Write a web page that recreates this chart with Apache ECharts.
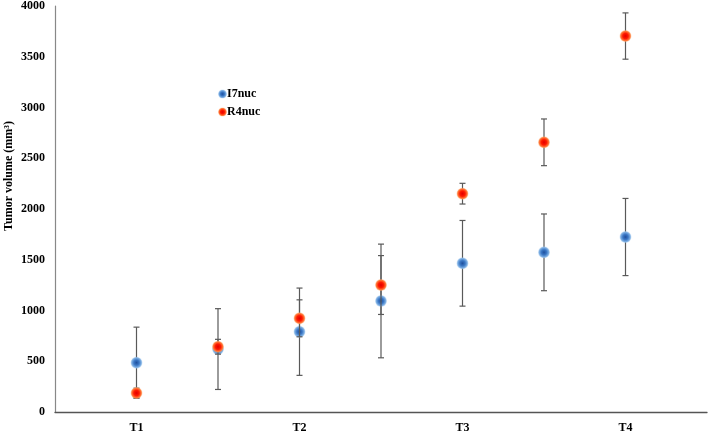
<!DOCTYPE html>
<html>
<head>
<meta charset="utf-8">
<script src="https://cdn.jsdelivr.net/npm/echarts@6/dist/echarts.min.js"></script>
<style>
html,body{margin:0;padding:0;background:#fff;}
#chart{width:709px;height:433px;}
</style>
</head>
<body>
<div id="chart"></div>
<script>
// Positions along the time axis (T1..T4 with midpoints)
var xPositions = [1, 1.5, 2, 2.5, 3, 3.5, 4];
var tickLabels = {1: 'T1', 2: 'T2', 3: 'T3', 4: 'T4'};
var seriesNames = ['I7nuc', 'R4nuc'];
var yAxisTitle = 'Tumor volume (mm³)';

var i7Values = [486, 620, 791, 1094, 1465, 1573, 1724];
var i7Errors = [350, 398, 430, 560, 422, 378, 380];

var r4Values = [187, 643, 923, 1251, 2151, 2657, 3704];
var r4Errors = [48, 73, 182, 290, 102, 230, 228];

function errData(vals, errs) {
  return xPositions.map(function (x, i) { return [x, vals[i] - errs[i], vals[i] + errs[i]]; });
}
function ptData(vals) {
  return xPositions.map(function (x, i) { return [x, vals[i]]; });
}

function errRender(params, api) {
  var x = api.value(0);
  var lo = api.coord([x, api.value(1)]);
  var hi = api.coord([x, api.value(2)]);
  var cap = 3;
  var st = {stroke: '#595959', lineWidth: 1.2};
  return {
    type: 'group',
    children: [
      {type: 'line', shape: {x1: lo[0], y1: lo[1], x2: hi[0], y2: hi[1]}, style: st},
      {type: 'line', shape: {x1: lo[0] - cap, y1: lo[1], x2: lo[0] + cap, y2: lo[1]}, style: st},
      {type: 'line', shape: {x1: hi[0] - cap, y1: hi[1], x2: hi[0] + cap, y2: hi[1]}, style: st}
    ]
  };
}

var blueFill = {type: 'radial', x: 0.5, y: 0.5, r: 0.5, colorStops: [
  {offset: 0, color: '#1f4f9c'}, {offset: 0.45, color: '#3b78c6'}, {offset: 0.8, color: '#7fb0e3'}, {offset: 1, color: 'rgba(160,200,240,0.4)'}]};
var redFill = {type: 'radial', x: 0.5, y: 0.5, r: 0.5, colorStops: [
  {offset: 0, color: '#e00000'}, {offset: 0.45, color: '#ff1a00'}, {offset: 0.8, color: '#ff7a3a'}, {offset: 1, color: 'rgba(255,170,110,0.4)'}]};

var font = '"Liberation Serif", "Times New Roman", serif';
var chart = echarts.init(document.getElementById('chart'), null, {renderer: 'canvas'});
chart.setOption({
  animation: false,
  backgroundColor: '#fff',
  grid: {left: 55, right: 2, top: 6, bottom: 21, containLabel: false, outerBoundsMode: 'none'},
  legend: {
    data: seriesNames,
    orient: 'vertical',
    left: 213, top: 83,
    itemWidth: 9, itemHeight: 9, itemGap: 6,
    icon: 'circle',
    textStyle: {fontFamily: font, fontWeight: 'bold', fontSize: 12, color: '#000', padding: [0, 0, 0, -5]}
  },
  graphic: [{
    type: 'text', x: 3, y: 176, rotation: Math.PI / 2,
    style: {text: yAxisTitle, font: 'bold 12px ' + font, fill: '#000', align: 'center', verticalAlign: 'top'}
  }],
  xAxis: {
    type: 'value', min: 0.5, max: 4.5, interval: 0.5,
    splitLine: {show: false},
    axisTick: {show: false},
    axisLine: {lineStyle: {color: '#555', width: 1.3}},
    axisLabel: {
      fontFamily: font, fontWeight: 'bold', fontSize: 12, color: '#000', margin: 10,
      formatter: function (v) { return tickLabels[v] || ''; }
    }
  },
  yAxis: {
    type: 'value', min: 0, max: 4000, interval: 500,
    splitLine: {show: false},
    axisTick: {show: false},
    axisLine: {show: true, lineStyle: {color: '#888', width: 1.2}},
    axisLabel: {fontFamily: font, fontWeight: 'bold', fontSize: 12, color: '#000', margin: 10,
      formatter: function (v) { return String(v); }}
  },
  series: [
    {type: 'custom', name: 'I7nuc-err', renderItem: errRender, data: errData(i7Values, i7Errors), encode: {x: 0, y: [1, 2]}, z: 2, silent: true},
    {type: 'scatter', name: 'I7nuc', data: ptData(i7Values), symbolSize: 12, itemStyle: {color: blueFill, opacity: 1}, z: 3},
    {type: 'custom', name: 'R4nuc-err', renderItem: errRender, data: errData(r4Values, r4Errors), encode: {x: 0, y: [1, 2]}, z: 4, silent: true},
    {type: 'scatter', name: 'R4nuc', data: ptData(r4Values), symbolSize: 12, itemStyle: {color: redFill, opacity: 1}, z: 5}
  ]
});
</script>
</body>
</html>
